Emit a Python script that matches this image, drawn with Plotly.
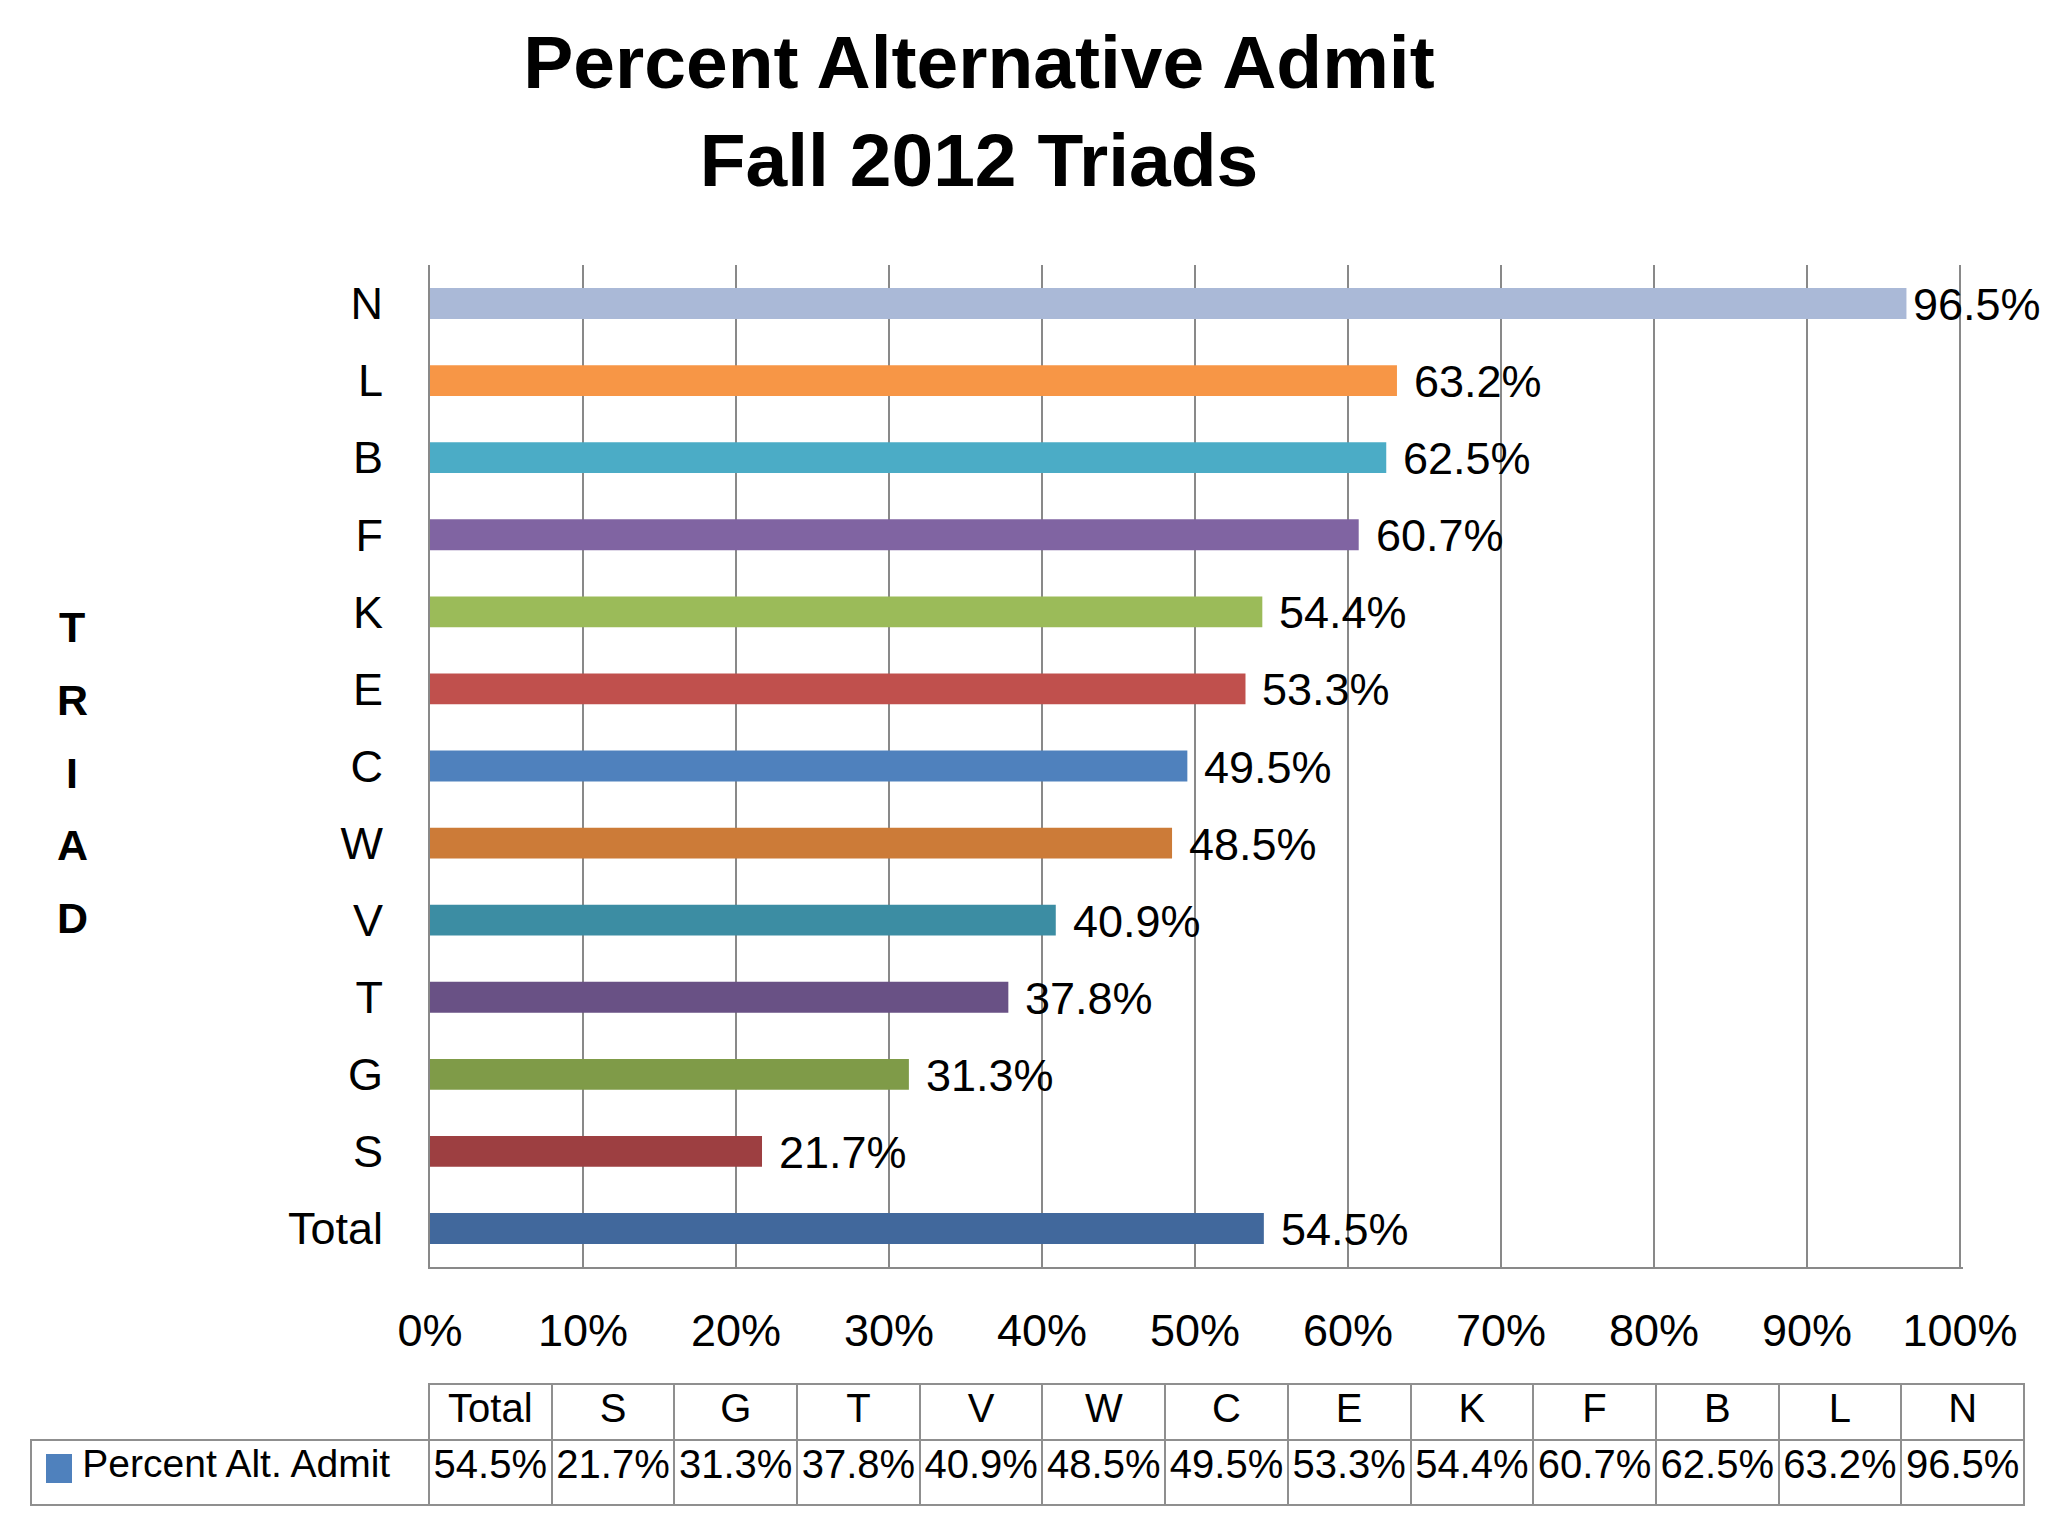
import plotly.graph_objects as go

# values (bottom to top, same order as the data table)
triads = ["Total", "S", "G", "T", "V", "W", "C", "E", "K", "F", "B", "L", "N"]
pct_alt_admit = [0.545, 0.217, 0.313, 0.378, 0.409, 0.485, 0.495, 0.533, 0.544, 0.607, 0.625, 0.632, 0.965]
series_name = "Percent Alt. Admit"
x_ticks = [0.0, 0.1, 0.2, 0.3, 0.4, 0.5, 0.6, 0.7, 0.8, 0.9, 1.0]
axis_title = "TRIAD"

bar_colors = ["#41689C", "#9D3F41", "#7F9B48", "#695185", "#3C8DA3", "#CC7B38",
              "#4F81BD", "#C0504D", "#9BBB59", "#8064A2", "#4BACC6", "#F79646", "#AAB9D7"]
key_color = "#4F81BD"

FONT = "Liberation Sans, Arial, sans-serif"
GRID = "#898989"
TBL = "#8F8F8F"
W, H = 2048, 1536
OFF = 8  # page body margin


def px_x(px):
    """screen column -> paper x"""
    return (px - OFF) / W


def px_y(px):
    """screen row (from top) -> paper y"""
    return 1 - (px - OFF) / H


fig = go.Figure()

fig.add_trace(go.Bar(
    x=pct_alt_admit,
    y=triads,
    orientation="h",
    width=0.4,
    marker=dict(color=bar_colors, line=dict(width=0)),
    showlegend=False,
    hovertemplate="%{y}: %{x:.1%}<extra></extra>",
))

# value labels right of each bar
for t, v in zip(triads, pct_alt_admit):
    fig.add_annotation(
        x=v, y=t, xref="x", yref="y",
        text=f"{v:.1%}",
        showarrow=False,
        xanchor="left", yanchor="middle",
        xshift=5 if v > 0.9 else 15,
        yshift=-1,
        font=dict(family=FONT, size=45, color="black"),
    )

# data table under the chart
ncol = len(triads)
fig.add_trace(go.Table(
    domain=dict(x=[px_x(31), px_x(2024)], y=[0, px_y(1384)]),
    columnwidth=[398] + [122.7] * ncol,
    header=dict(
        values=[""] + triads,
        height=56,
        align="center",
        line=dict(color=["rgba(0,0,0,0)"] + [TBL] * ncol, width=2),
        fill=dict(color=["rgba(0,0,0,0)"] + ["white"] * ncol),
        font=dict(family=FONT, size=40, color="black"),
    ),
    cells=dict(
        values=[["\u00a0" * 4 + series_name]] + [[f"{v:.1%}"] for v in pct_alt_admit],
        height=65,
        align=["left"] + ["center"] * ncol,
        line=dict(color=TBL, width=2),
        fill=dict(color=["rgba(0,0,0,0)"] + ["white"] * ncol),
        font=dict(family=FONT, size=[39] + [40] * ncol, color="black"),
    ),
))

# legend key square in the table's label cell
fig.add_shape(
    type="rect", xref="paper", yref="paper",
    x0=px_x(46), x1=px_x(72), y0=px_y(1483), y1=px_y(1454),
    fillcolor=key_color, line=dict(width=0), layer="above",
)

# vertical stacked axis title
for i, ch in enumerate(axis_title):
    fig.add_annotation(
        x=px_x(72), y=px_y(627 + i * 72.75), xref="paper", yref="paper",
        text=ch, showarrow=False, xanchor="center", yanchor="middle",
        font=dict(family=FONT, size=43, color="black", weight="bold"),
    )

fig.update_layout(
    width=W,
    height=H,
    autosize=False,
    margin=dict(l=0, r=0, t=0, b=0),
    paper_bgcolor="white",
    plot_bgcolor="white",
    title=dict(
        text="Percent Alternative Admit<br>Fall 2012 Triads",
        x=px_x(979), xanchor="center",
        y=px_y(113 - 25), yanchor="middle",
        font=dict(family=FONT, size=75, color="black", weight="bold"),
    ),
    xaxis=dict(
        domain=[px_x(430), px_x(430 + 1530 * 1.002)],
        range=[0, 1.002],
        tickvals=x_ticks,
        tickformat=".0%",
        automargin=False,
        showgrid=True,
        gridcolor=GRID,
        gridwidth=1.5,
        zeroline=False,
        showline=True,
        linecolor=GRID,
        linewidth=2,
        ticks="",
        ticklabelstandoff=23,
        tickfont=dict(family=FONT, size=45, color="black"),
    ),
    yaxis=dict(
        domain=[px_y(1267), px_y(265)],
        categoryorder="array",
        categoryarray=triads,
        automargin=False,
        showgrid=False,
        zeroline=False,
        showline=True,
        linecolor=GRID,
        linewidth=2,
        ticks="",
        ticklabelstandoff=36,
        tickfont=dict(family=FONT, size=45, color="black"),
    ),
)

fig.write_html("out.html")
